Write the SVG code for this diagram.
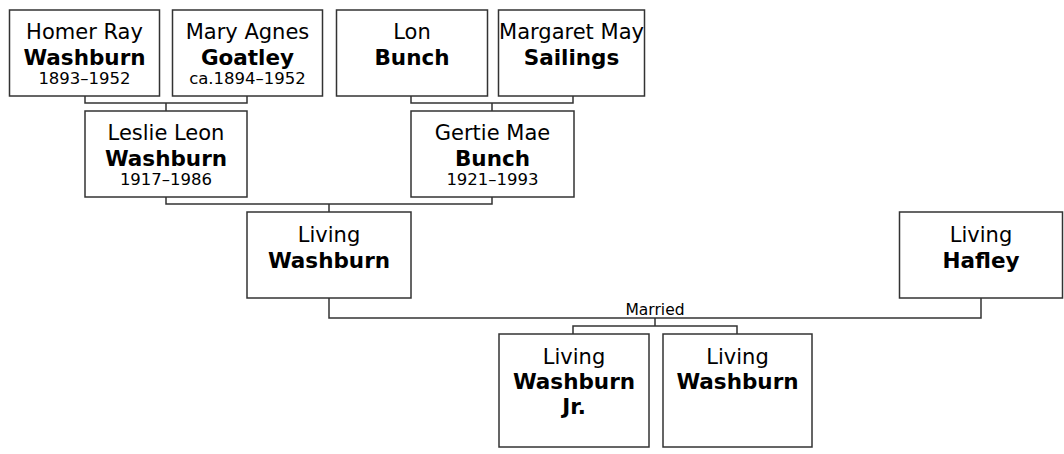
<svg xmlns="http://www.w3.org/2000/svg" width="1064" height="454" viewBox="0 0 1064 454">
<style>
.box{fill:#fff;stroke:#333;stroke-width:1.5}
.ln{fill:none;stroke:#333;stroke-width:1.5}
text{font-family:"DejaVu Sans",Verdana,sans-serif;text-anchor:middle;fill:#000}
.n{font-size:21px}
.b{font-size:21.5px;font-weight:bold}
.d{font-size:16.5px}
.m{font-size:15.5px}
</style>
<rect width="1064" height="454" fill="#fff"/>
<g id="connectors">
<path class="ln" d="M85,96 V103 H247 V96 M166,103 V111"/>
<path class="ln" d="M411,96 V103 H573 V96 M492,103 V111"/>
<path class="ln" d="M166,197 V204 H492 V197 M329,204 V212"/>
<path class="ln" d="M329,298 V318 H981 V298 M655,318 V326 M573,334 V326 H737 V334"/>
<text class="m" x="655" y="315">Married</text>
</g>
<g id="homer">
<rect class="box" x="9.5" y="10" width="150" height="86"/>
<text class="n" x="84.5" y="39">Homer Ray</text>
<text class="b" x="84.5" y="65">Washburn</text>
<text class="d" x="84.5" y="84">1893–1952</text>
</g>
<g id="mary">
<rect class="box" x="172.5" y="10" width="150" height="86"/>
<text class="n" x="247.5" y="39">Mary Agnes</text>
<text class="b" x="247.5" y="65">Goatley</text>
<text class="d" x="247.5" y="84">ca.1894–1952</text>
</g>
<g id="lon">
<rect class="box" x="336.5" y="10" width="151" height="86"/>
<text class="n" x="412" y="39">Lon</text>
<text class="b" x="412" y="65">Bunch</text>
</g>
<g id="margaret">
<rect class="box" x="498.5" y="10" width="146" height="86"/>
<text class="n" x="571.5" y="39">Margaret May</text>
<text class="b" x="571.5" y="65">Sailings</text>
</g>
<g id="leslie">
<rect class="box" x="85" y="111" width="162" height="86"/>
<text class="n" x="166" y="140">Leslie Leon</text>
<text class="b" x="166" y="166">Washburn</text>
<text class="d" x="166" y="185">1917–1986</text>
</g>
<g id="gertie">
<rect class="box" x="411" y="111" width="163" height="86"/>
<text class="n" x="492.5" y="140">Gertie Mae</text>
<text class="b" x="492.5" y="166">Bunch</text>
<text class="d" x="492.5" y="185">1921–1993</text>
</g>
<g id="living-washburn">
<rect class="box" x="247" y="212" width="164" height="86"/>
<text class="n" x="329" y="242">Living</text>
<text class="b" x="329" y="268">Washburn</text>
</g>
<g id="living-hafley">
<rect class="box" x="899.5" y="212" width="163" height="86"/>
<text class="n" x="981" y="242">Living</text>
<text class="b" x="981" y="268">Hafley</text>
</g>
<g id="living-washburn-jr">
<rect class="box" x="499" y="334" width="150" height="113"/>
<text class="n" x="574" y="364">Living</text>
<text class="b" x="574" y="389">Washburn</text>
<text class="b" x="574" y="414">Jr.</text>
</g>
<g id="living-washburn-2">
<rect class="box" x="663" y="334" width="149" height="113"/>
<text class="n" x="737.5" y="364">Living</text>
<text class="b" x="737.5" y="389">Washburn</text>
</g>
</svg>
